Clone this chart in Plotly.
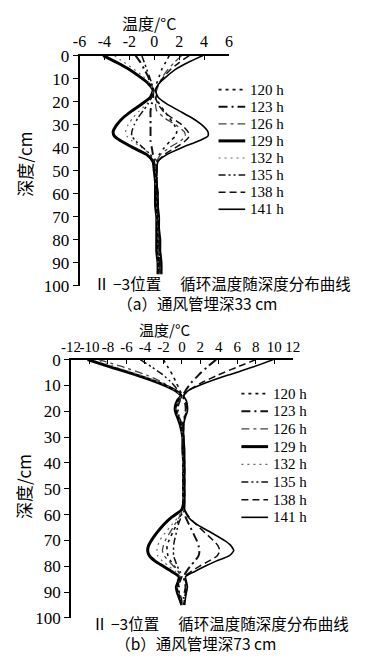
import plotly.graph_objects as go

# Cycle times shown in each panel
HOURS = ["120 h", "123 h", "126 h", "129 h", "132 h", "135 h", "138 h", "141 h"]

# Panel (a): vent pipe buried at 33 cm -- depth (cm) and temperature (°C)
DEPTH_A = [0, 3, 6, 9, 12, 15, 18, 21, 24, 27, 30, 33, 35, 37, 40, 43, 46, 50,
           55, 60, 65, 70, 75, 80, 85, 90, 95]
TEMP_A = {
    "120 h": [1.2, 0.9, 0.6, 0.4, 0.2, 0.1, 0.2, 0.4, 0.8, 1.2, 1.6, 1.8, 1.7, 1.3, 0.8, 0.4, 0.2, 0.2, 0.2, 0.2, 0.3, 0.3, 0.3, 0.4, 0.4, 0.4, 0.5],
    "123 h": [-1.5, -1.1, -0.8, -0.5, -0.3, -0.1, -0.1, -0.2, -0.3, -0.3, -0.3, -0.3, -0.3, -0.3, -0.2, -0.1, 0.1, 0.2, 0.2, 0.2, 0.2, 0.3, 0.3, 0.3, 0.4, 0.4, 0.4],
    "126 h": [2.2, 1.6, 1.1, 0.7, 0.4, 0.2, 0.1, 0.1, 0.2, 0.8, 1.7, 2.4, 2.5, 2.1, 1.2, 0.5, 0.2, 0.1, 0.2, 0.2, 0.2, 0.2, 0.3, 0.3, 0.3, 0.4, 0.4],
    "129 h": [-4.1, -3.0, -2.0, -1.2, -0.5, -0.1, -0.3, -1.0, -1.8, -2.5, -3.0, -3.3, -3.2, -2.7, -1.7, -0.6, -0.1, 0.0, 0.1, 0.1, 0.1, 0.2, 0.2, 0.2, 0.2, 0.3, 0.3],
    "132 h": [-3.2, -2.4, -1.6, -0.9, -0.4, -0.1, -0.2, -0.6, -1.2, -1.7, -2.1, -2.3, -2.2, -1.8, -1.0, -0.3, 0.0, 0.1, 0.1, 0.2, 0.2, 0.2, 0.3, 0.3, 0.3, 0.3, 0.4],
    "135 h": [-1.0, -0.8, -0.6, -0.4, -0.2, -0.1, -0.2, -0.5, -0.9, -1.3, -1.6, -1.8, -1.8, -1.5, -0.9, -0.3, 0.0, 0.1, 0.2, 0.2, 0.3, 0.3, 0.3, 0.4, 0.4, 0.5, 0.5],
    "138 h": [2.8, 2.0, 1.3, 0.8, 0.4, 0.1, 0.1, 0.3, 0.7, 1.4, 2.2, 2.7, 2.8, 2.5, 1.7, 0.8, 0.3, 0.2, 0.2, 0.3, 0.3, 0.3, 0.4, 0.4, 0.5, 0.5, 0.6],
    "141 h": [3.9, 2.7, 1.7, 1.0, 0.4, 0.1, 0.3, 1.0, 2.0, 3.0, 3.8, 4.3, 4.3, 3.6, 2.2, 1.0, 0.3, 0.2, 0.2, 0.3, 0.3, 0.4, 0.4, 0.5, 0.5, 0.6, 0.6],
}

# Panel (b): vent pipe buried at 73 cm
DEPTH_B = [0, 3, 6, 9, 12, 14, 16, 18, 20, 22, 25, 30, 35, 40, 45, 50, 55, 58,
           61, 64, 67, 70, 72, 74, 76, 78, 80, 82, 84, 86, 88, 90, 92, 95]
TEMP_B = {
    "120 h": [-2.0, -1.5, -1.0, -0.6, -0.2, 0.0, -0.3, -0.5, -0.5, -0.3, -0.1, 0.1, 0.1, 0.1, 0.1, 0.1, 0.1, 0.0, -0.2, -0.6, -1.0, -1.4, -1.6, -1.6, -1.5, -1.2, -0.8, -0.4, -0.1, -0.3, -0.4, -0.3, -0.2, 0.0],
    "123 h": [3.7, 2.7, 1.8, 1.0, 0.4, 0.1, 0.3, 0.4, 0.4, 0.3, 0.1, 0.1, 0.2, 0.2, 0.2, 0.2, 0.2, 0.2, 0.4, 0.8, 1.2, 1.6, 1.8, 1.9, 1.8, 1.4, 0.9, 0.5, 0.2, 0.3, 0.4, 0.3, 0.2, 0.2],
    "126 h": [-9.0, -6.2, -3.8, -2.0, -0.7, -0.1, -0.4, -0.6, -0.6, -0.4, -0.1, 0.1, 0.1, 0.1, 0.2, 0.2, 0.2, 0.1, -0.3, -0.8, -1.3, -1.8, -2.0, -2.1, -1.9, -1.4, -0.9, -0.4, -0.1, -0.3, -0.5, -0.4, -0.2, 0.1],
    "129 h": [-10.2, -7.6, -4.9, -2.5, -0.7, -0.1, -0.5, -0.7, -0.7, -0.5, -0.2, 0.1, 0.1, 0.2, 0.2, 0.2, 0.2, 0.0, -1.1, -2.0, -2.7, -3.3, -3.6, -3.7, -3.5, -2.9, -2.0, -1.1, -0.3, -0.4, -0.6, -0.5, -0.3, 0.0],
    "132 h": [-9.5, -7.0, -4.5, -2.3, -0.7, -0.1, -0.4, -0.6, -0.6, -0.4, -0.1, 0.1, 0.1, 0.1, 0.2, 0.2, 0.2, 0.1, -0.4, -1.1, -1.8, -2.4, -2.6, -2.7, -2.6, -2.1, -1.4, -0.7, -0.2, -0.3, -0.5, -0.4, -0.2, 0.1],
    "135 h": [-4.5, -3.2, -2.0, -1.1, -0.4, 0.0, -0.2, -0.4, -0.4, -0.3, 0.0, 0.1, 0.1, 0.2, 0.2, 0.2, 0.2, 0.1, -0.1, -0.4, -0.6, -0.8, -0.9, -0.9, -0.9, -0.7, -0.5, -0.2, 0.0, -0.2, -0.3, -0.3, -0.1, 0.1],
    "138 h": [8.0, 5.9, 3.9, 2.1, 0.7, 0.2, 0.4, 0.5, 0.5, 0.3, 0.2, 0.2, 0.2, 0.3, 0.3, 0.3, 0.3, 0.3, 0.8, 1.6, 2.5, 3.4, 3.9, 4.1, 3.8, 2.9, 1.9, 1.0, 0.3, 0.4, 0.5, 0.4, 0.3, 0.2],
    "141 h": [9.9, 7.6, 5.0, 2.6, 0.7, 0.2, 0.5, 0.6, 0.6, 0.4, 0.2, 0.2, 0.3, 0.3, 0.3, 0.3, 0.3, 0.3, 0.7, 1.7, 3.2, 4.6, 5.3, 5.6, 5.1, 3.7, 2.5, 1.4, 0.4, 0.5, 0.6, 0.5, 0.4, 0.3],
}

X_TICKS_A = [-6, -4, -2, 0, 2, 4, 6]
X_TICKS_B = [-12, -10, -8, -6, -4, -2, 0, 2, 4, 6, 8, 10, 12]
Y_TICKS = [0, 10, 20, 30, 40, 50, 60, 70, 80, 90, 100]

CAPTION_A = "Ⅱ −3位置　 循环温度随深度分布曲线<br>　　（a）通风管埋深33 cm"
CAPTION_B = "Ⅱ −3位置　 循环温度随深度分布曲线<br>　　（b）通风管埋深73 cm"

# Line style per cycle time
STYLE = {
    "120 h": dict(color="#111", width=1.6, dash="3px,4px"),
    "123 h": dict(color="#111", width=2.0, dash="9px,4px,2px,4px"),
    "126 h": dict(color="#444", width=1.3, dash="8px,4px,3px,4px"),
    "129 h": dict(color="#000", width=3.0, dash="solid"),
    "132 h": dict(color="#666", width=1.2, dash="2px,4px"),
    "135 h": dict(color="#111", width=1.5, dash="7px,3px,2px,3px,2px,3px"),
    "138 h": dict(color="#111", width=1.5, dash="7px,4px"),
    "141 h": dict(color="#000", width=1.6, dash="solid"),
}

SERIF = "Liberation Serif, Noto Sans CJK SC"
CJK = "Noto Sans CJK SC, Liberation Serif"
W, H = 377, 660


def px_x(p):
    return p / W


def px_y(p):
    return 1 - p / H


fig = go.Figure()
for h in HOURS:
    fig.add_trace(go.Scatter(
        x=TEMP_A[h], y=DEPTH_A, name=h, mode="lines",
        line=dict(shape="spline", smoothing=0.6, **STYLE[h]),
        xaxis="x", yaxis="y", showlegend=False,
    ))
for h in HOURS:
    fig.add_trace(go.Scatter(
        x=TEMP_B[h], y=DEPTH_B, name=h, mode="lines",
        line=dict(shape="spline", smoothing=0.6, **STYLE[h]),
        xaxis="x2", yaxis="y2", showlegend=False,
    ))


def tick_text(vals):
    return [f"-{abs(v)}" if v < 0 else str(v) for v in vals]


xaxis_common = dict(
    side="top", showgrid=False, zeroline=False, showline=True,
    linecolor="black", linewidth=1.5, ticks="inside", ticklen=5,
    tickcolor="black", tickwidth=1.3, tickmode="array", tickangle=0,
    tickfont=dict(family=SERIF, size=16, color="black"),
)
yaxis_common = dict(
    showgrid=False, zeroline=False, showline=True, linecolor="black",
    linewidth=1.5, ticks="outside", ticklen=5, tickcolor="black",
    tickwidth=1.3, tickmode="array", tickvals=Y_TICKS, range=[100, 0],
    tickfont=dict(family=SERIF, size=17, color="black"),
)

fig.update_layout(
    width=W, height=H, margin=dict(l=0, r=0, t=0, b=0),
    paper_bgcolor="white", plot_bgcolor="white",
    font=dict(family=SERIF, color="black"),
    showlegend=False,
    xaxis=dict(xaxis_common, domain=[px_x(73), px_x(230)], range=[-6, 6],
               tickvals=X_TICKS_A, ticktext=tick_text(X_TICKS_A), anchor="y"),
    yaxis=dict(yaxis_common, domain=[px_y(285), px_y(48)], anchor="x"),
    xaxis2=dict(xaxis_common, domain=[px_x(64), px_x(297)], range=[-12, 12],
                tickvals=X_TICKS_B, ticktext=tick_text(X_TICKS_B), anchor="y2",
                tickfont=dict(family=SERIF, size=15, color="black")),
    yaxis2=dict(yaxis_common, domain=[px_y(627), px_y(361)], anchor="x2"),
)

annotations = [
    dict(text="温度/°C", x=px_x(146), y=px_y(14), font=dict(family=CJK, size=16)),
    dict(text="深度/cm", x=px_x(15), y=px_y(160), textangle=-90,
         font=dict(family=CJK, size=17)),
    dict(text=CAPTION_A, x=px_x(86), y=px_y(269), xanchor="left", yanchor="top",
         align="left", font=dict(family=CJK, size=15.5)),
    dict(text="温度/°C", x=px_x(162), y=px_y(330), font=dict(family=CJK, size=15)),
    dict(text="深度/cm", x=px_x(15), y=px_y(492), textangle=-90,
         font=dict(family=CJK, size=17)),
    dict(text=CAPTION_B, x=px_x(84), y=px_y(619), xanchor="left", yanchor="top",
         align="left", font=dict(family=CJK, size=15.5)),
]
for a in annotations:
    a.setdefault("xanchor", "center")
    a.setdefault("yanchor", "middle")
    a.update(xref="paper", yref="paper", showarrow=False)

# Key for each panel: line sample followed by the cycle-time label
shapes = []
legend_boxes = [
    dict(x0=219, x1=247, text_x=250, y_first=83, step=17.6),
    dict(x0=243, x1=271, text_x=274, y_first=396, step=18.2),
]
for box in legend_boxes:
    for i, h in enumerate(HOURS):
        yy = box["y_first"] + i * box["step"]
        st = STYLE[h]
        shapes.append(dict(
            type="line", xref="paper", yref="paper",
            x0=px_x(box["x0"]), x1=px_x(box["x1"]),
            y0=px_y(yy), y1=px_y(yy),
            line=dict(color=st["color"], width=st["width"], dash=st["dash"]),
        ))
        annotations.append(dict(
            text=h, xref="paper", yref="paper", showarrow=False,
            x=px_x(box["text_x"]), y=px_y(yy), xanchor="left", yanchor="middle",
            font=dict(family=SERIF, size=15, color="black"),
        ))

fig.update_layout(annotations=annotations, shapes=shapes)
fig.write_html("out.html")
